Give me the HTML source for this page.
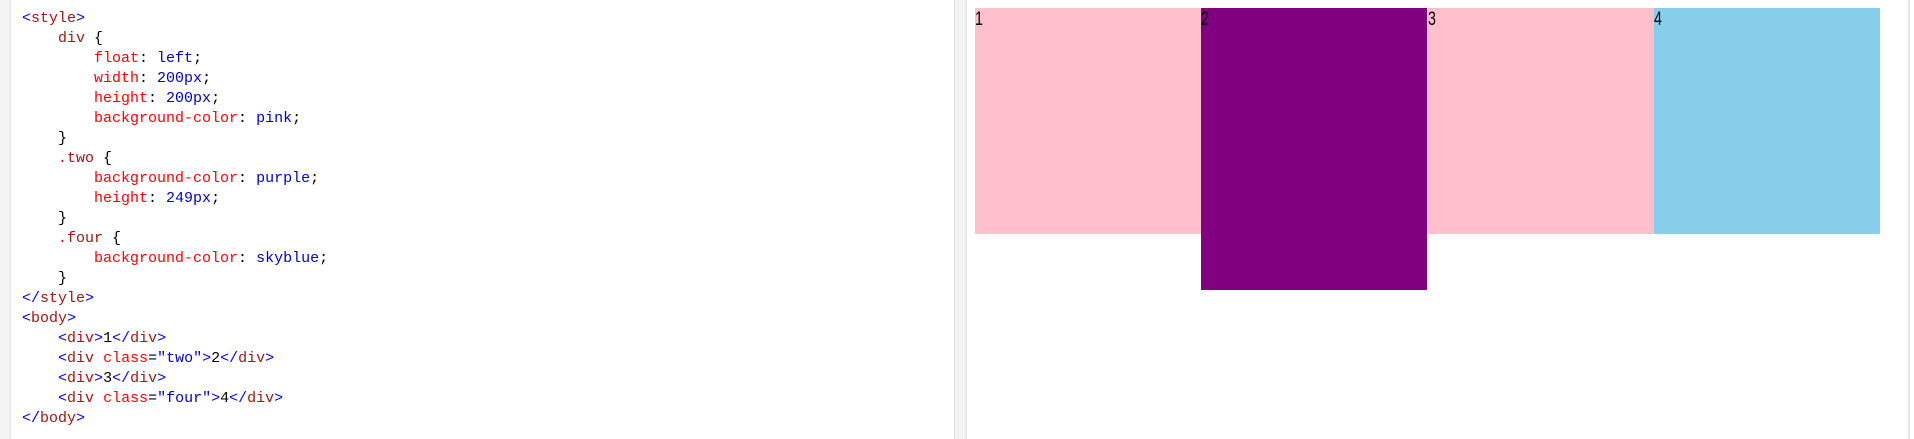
<!DOCTYPE html>
<html><head><style>
body{margin:0;width:1914px;height:439px;background:#fff;position:relative;overflow:hidden;font-family:"Liberation Sans",sans-serif}
#gutter{position:absolute;left:0;top:0;width:10px;height:439px;background:#f3f3f3;border-right:1px solid #e4e4e4}
#code{position:absolute;left:22px;top:9px;font-family:"Liberation Mono",monospace;font-size:15px;line-height:20px;white-space:pre;color:#000}
.b{color:#0000ff}.t{color:#a31515}.p{color:#ff0000}.v{color:#0000cd}
#divider{position:absolute;left:954px;top:0;width:11px;height:439px;background:#f3f3f3;border-left:1px solid #e0e0e0;border-right:1px solid #e0e0e0}
#rborder{position:absolute;left:1908px;top:0;width:2px;height:439px;background:#e6e6e6}
.box{position:absolute;top:8px;width:226px;font-size:19px;line-height:17px;padding-top:3px;box-sizing:border-box;color:#000}
.box span{display:inline-block;transform:scaleX(0.75);transform-origin:0 0}
</style></head><body>
<div id="gutter"></div>
<div id="code"><span class="b">&lt;</span><span class="t">style</span><span class="b">&gt;</span>
    <span class="t">div</span> {
        <span class="p">float</span>: <span class="v">left</span>;
        <span class="p">width</span>: <span class="v">200px</span>;
        <span class="p">height</span>: <span class="v">200px</span>;
        <span class="p">background-color</span>: <span class="v">pink</span>;
    }
    <span class="t">.two</span> {
        <span class="p">background-color</span>: <span class="v">purple</span>;
        <span class="p">height</span>: <span class="v">249px</span>;
    }
    <span class="t">.four</span> {
        <span class="p">background-color</span>: <span class="v">skyblue</span>;
    }
<span class="b">&lt;/</span><span class="t">style</span><span class="b">&gt;</span>
<span class="b">&lt;</span><span class="t">body</span><span class="b">&gt;</span>
    <span class="b">&lt;</span><span class="t">div</span><span class="b">&gt;</span>1<span class="b">&lt;/</span><span class="t">div</span><span class="b">&gt;</span>
    <span class="b">&lt;</span><span class="t">div</span> <span class="p">class</span>=<span class="v">"two"</span><span class="b">&gt;</span>2<span class="b">&lt;/</span><span class="t">div</span><span class="b">&gt;</span>
    <span class="b">&lt;</span><span class="t">div</span><span class="b">&gt;</span>3<span class="b">&lt;/</span><span class="t">div</span><span class="b">&gt;</span>
    <span class="b">&lt;</span><span class="t">div</span> <span class="p">class</span>=<span class="v">"four"</span><span class="b">&gt;</span>4<span class="b">&lt;/</span><span class="t">div</span><span class="b">&gt;</span>
<span class="b">&lt;/</span><span class="t">body</span><span class="b">&gt;</span></div>
<div id="divider"></div>
<div class="box" style="left:975px;height:226px;background:pink"><span>1</span></div>
<div class="box" style="left:1201px;height:282px;background:purple"><span>2</span></div>
<div class="box" style="left:1428px;height:226px;background:pink"><span>3</span></div>
<div class="box" style="left:1654px;height:226px;background:skyblue"><span>4</span></div>
<div id="rborder"></div>
</body></html>
